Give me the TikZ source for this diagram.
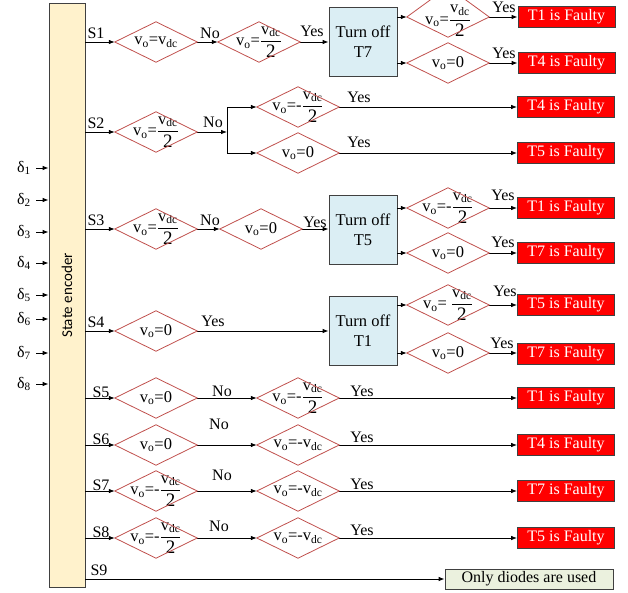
\documentclass[tikz,border=0pt]{standalone}
\usepackage{amsmath}
\usepackage{fontspec}
\setmainfont{Liberation Serif}
\newfontfamily\encfont{Carlito}
\usetikzlibrary{arrows.meta}
\newcommand{\vfr}{\ensuremath{\genfrac{}{}{0.6pt}{0}{\hbox{v\textsubscript{dc}}}{\hbox{\fontsize{19}{19}\selectfont 2}}}}
\newcommand{\vsub}{v\textsubscript{o}}
\definecolor{enccol}{RGB}{255,242,204}
\definecolor{actcol}{RGB}{219,238,244}
\definecolor{diocol}{RGB}{235,241,222}
\definecolor{diacol}{RGB}{192,80,77}
\definecolor{edgecol}{RGB}{64,64,64}
\begin{document}
\begin{tikzpicture}[x=1pt,y=-1pt,font=\fontsize{16}{18}\selectfont,
  arr/.style={-{Latex[length=6pt,width=4.5pt]},line width=0.8pt},
  dia/.style={minimum width=82pt,minimum height=40pt,inner sep=0pt,font=\fontsize{16.5}{18}\selectfont},
  diaedge/.style={draw=diacol,line width=0.8pt},
  enc/.style={draw=edgecol,fill=enccol,line width=0.8pt,minimum width=36pt,minimum height=584pt,inner sep=0pt},
  act/.style={draw=edgecol,fill=actcol,line width=0.8pt,minimum width=68pt,minimum height=69pt,inner sep=0pt,align=center,font=\fontsize{16.5}{20}\selectfont},
  fault/.style={draw=edgecol,fill=red,text=white,line width=0.8pt,minimum width=97pt,minimum height=21pt,inner sep=0pt},
  diode/.style={draw=edgecol,fill=diocol,line width=0.8pt,minimum width=168pt,minimum height=20pt,inner sep=0pt},
  lbl/.style={inner sep=0pt},
  dl/.style={inner sep=0pt,anchor=east}]
\useasboundingbox (0,0) rectangle (628,593);

% state encoder
\node[enc] (enc) at (67,295.5) {};
\node[lbl,rotate=90,font=\encfont\fontsize{15}{17}\selectfont] (enclbl) at (enc.center) {State encoder};

% inputs
\foreach \i/\y in {1/167,2/199,3/231,4/262,5/294,6/318,7/352,8/383}{
  \node[dl] (dl\i) at (31,\y+1) {δ\textsubscript{\i}};
  \draw[arr] ([xshift=5pt]dl\i.east) -- (dl\i.east -| enc.west);
}

% ---------- Row S1 ----------
\node[dia] (a1) at (156,42) {\vsub=v\textsubscript{dc}};
\node[dia] (b1) at (259,42) {\vsub=\vfr};
\node[act] (t7) at (363,42) {Turn off\\T7};
\node[dia] (c1) at (448,17) {};
\node[lbl,font=\fontsize{16.5}{18}\selectfont] (c1t) at (448,20.5) {\vsub=\vfr};
\node[dia] (c2) at (448,63) {\vsub=0};
\node[fault] (f1) at (566.5,17) {T1 is Faulty};
\node[fault] (f2) at (566.5,63) {T4 is Faulty};
\draw[arr] (enc.east |- a1.west) -- (a1.west);
\draw[arr] (a1.east) -- (b1.west);
\draw[arr] (b1.east) -- (t7.west);
\draw[arr] (t7.east |- c1.west) -- (c1.west);
\draw[arr] (t7.east |- c2.west) -- (c2.west);
\draw[arr] (c1.east) -- (f1.west);
\draw[arr] (c2.east) -- (f2.west);
\node[lbl] (s1) at (96,33) {S1};
\node[lbl] (n1) at (210,33) {No};
\node[lbl] (y1) at (312,31) {Yes};
\node[lbl] (y1a) at (504,7.5) {Yes};
\node[lbl] (y1b) at (504,53) {Yes};

% ---------- Row S2 ----------
\node[dia] (a2) at (156,132) {\vsub=\vfr};
\coordinate (br2) at (227,132);
\node[dia] (b2u) at (298,107) {\vsub=-\vfr};
\node[dia] (b2l) at (298,153) {\vsub=0};
\node[fault] (f3) at (566,107) {T4 is Faulty};
\node[fault] (f4) at (566,153) {T5 is Faulty};
\draw[arr] (enc.east |- a2.west) -- (a2.west);
\draw[arr] (a2.east) -- (br2);
\draw[arr] (br2) |- (b2u.west);
\draw[arr] (br2) |- (b2l.west);
\draw[arr] (b2u.east) -- (f3.west);
\draw[arr] (b2l.east) -- (f4.west);
\node[lbl] (s2) at (96,123) {S2};
\node[lbl] (n2) at (213,122) {No};
\node[lbl] (y2a) at (359,97) {Yes};
\node[lbl] (y2b) at (359,142) {Yes};

% ---------- Row S3 ----------
\node[dia] (a3) at (156,229) {\vsub=\vfr};
\node[dia] (b3) at (261,229) {\vsub=0};
\node[act] (t5) at (363,230) {Turn off\\T5};
\node[dia] (c3) at (448,208) {\vsub=-\vfr};
\node[dia] (c4) at (448,253) {\vsub=0};
\node[fault] (f5) at (566,208) {T1 is Faulty};
\node[fault] (f6) at (566,253) {T7 is Faulty};
\draw[arr] (enc.east |- a3.west) -- (a3.west);
\draw[arr] (a3.east) -- (b3.west);
\draw[arr] (b3.east) -- (t5.west |- b3.east);
\draw[arr] (t5.east |- c3.west) -- (c3.west);
\draw[arr] (t5.east |- c4.west) -- (c4.west);
\draw[arr] (c3.east) -- (f5.west);
\draw[arr] (c4.east) -- (f6.west);
\node[lbl] (s3) at (96,220) {S3};
\node[lbl] (n3) at (210,220) {No};
\node[lbl] (y3) at (315,222) {Yes};
\node[lbl] (y3a) at (503,195) {Yes};
\node[lbl] (y3b) at (503,242) {Yes};

% ---------- Row S4 ----------
\node[dia] (a4) at (156,331) {\vsub=0};
\node[act] (t1) at (363,331) {Turn off\\T1};
\node[dia] (c5) at (448,305) {\vsub= \vfr};
\node[dia] (c6) at (448,353) {\vsub=0};
\node[fault] (f7) at (566,305) {T5 is Faulty};
\node[fault] (f8) at (566,354) {T7 is Faulty};
\draw[arr] (enc.east |- a4.west) -- (a4.west);
\draw[arr] (a4.east) -- (t1.west);
\draw[arr] (t1.east |- c5.west) -- (c5.west);
\draw[arr] (t1.east |- c6.west) -- (c6.west);
\draw[arr] (c5.east) -- (f7.west);
\draw[arr] (c6.east) -- (f8.west |- c6.east);
\node[lbl] (s4) at (96,322) {S4};
\node[lbl] (y4) at (213,321) {Yes};
\node[lbl] (y4a) at (505,291) {Yes};
\node[lbl] (y4b) at (502,343) {Yes};

% ---------- Rows S5-S8 ----------
\node[dia] (a5) at (156,398) {\vsub=0};
\node[dia] (b5) at (298,398) {\vsub=-\vfr};
\node[fault] (f9) at (566,398) {T1 is Faulty};
\node[dia] (a6) at (156,445) {\vsub=0};
\node[dia] (b6) at (298,445) {\vsub=-v\textsubscript{dc}};
\node[fault] (f10) at (566,445) {T4 is Faulty};
\node[dia] (a7) at (156,491) {\vsub=-\vfr};
\node[dia] (b7) at (298,491) {\vsub=-v\textsubscript{dc}};
\node[fault] (f11) at (566,491) {T7 is Faulty};
\node[dia] (a8) at (156,538) {\vsub=-\vfr};
\node[dia] (b8) at (298,538) {\vsub=-v\textsubscript{dc}};
\node[fault] (f12) at (566,538) {T5 is Faulty};
\foreach \r/\f in {5/f9,6/f10,7/f11,8/f12}{
  \draw[arr] (enc.east |- a\r.west) -- (a\r.west);
  \draw[arr] (a\r.east) -- (b\r.west);
  \draw[arr] (b\r.east) -- (\f.west);
}
\node[lbl] (s5) at (101,392) {S5};
\node[lbl] (n5) at (222,391) {No};
\node[lbl] (y5) at (362,391) {Yes};
\node[lbl] (s6) at (101,439) {S6};
\node[lbl] (n6) at (219,424) {No};
\node[lbl] (y6) at (362,437) {Yes};
\node[lbl] (s7) at (101,485) {S7};
\node[lbl] (n7) at (222,475) {No};
\node[lbl] (y7) at (362,484) {Yes};
\node[lbl] (s8) at (101,532) {S8};
\node[lbl] (n8) at (219,526) {No};
\node[lbl] (y8) at (362,530) {Yes};

% ---------- Row S9 ----------
\node[diode] (dio) at (529,579) {Only diodes are used};
\draw[arr] (enc.east |- dio.west) -- (dio.west);
\node[lbl] (s9) at (99,570) {S9};

% diamond outlines
\foreach \n in {a1,b1,c2,a2,b2u,b2l,a3,b3,c3,c4,a4,c5,c6,a5,b5,a6,b6,a7,b7,a8,b8}{
  \draw[diaedge] (\n.west) -- (\n.north) -- (\n.east) -- (\n.south) -- cycle;
}
\draw[diaedge] (c1.west) -- ([yshift=30pt]c1.center) -- (c1.east) -- (c1.south) -- cycle;
\end{tikzpicture}
\end{document}
